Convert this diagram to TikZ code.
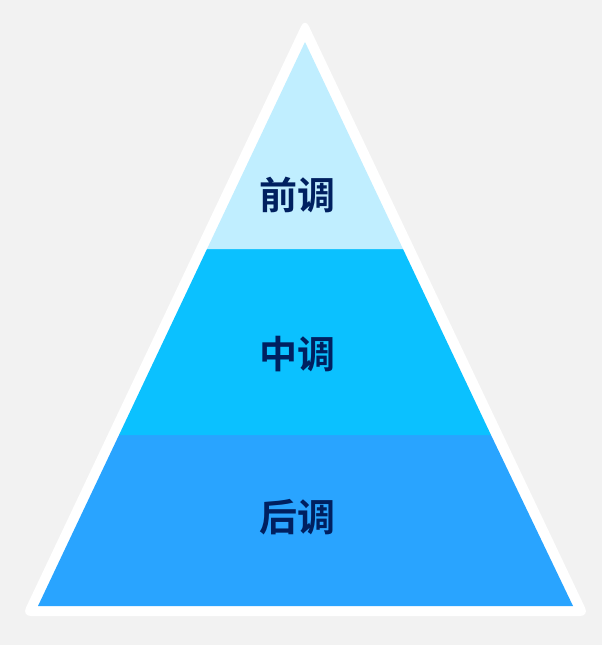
\documentclass[tikz,border=0pt]{standalone}
\usepackage{fontspec}
\newfontfamily\cjk{Noto Sans CJK SC}[BoldFont={Noto Sans CJK SC Bold}]
\definecolor{bg}{HTML}{F2F2F2}
\definecolor{topc}{HTML}{C0EEFF}
\definecolor{midc}{HTML}{0BC1FF}
\definecolor{botc}{HTML}{29A4FF}
\definecolor{txt}{HTML}{002060}
\tikzset{lbl/.style={font=\cjk\bfseries\fontsize{38}{42}\selectfont, text=txt, inner sep=0pt}}
\begin{document}
\begin{tikzpicture}[x=1pt,y=-1pt]
\fill[bg] (0,0) rectangle (602,645);
\useasboundingbox (0,0) rectangle (602,645);
\coordinate (A) at (305,18);
\coordinate (L) at (22,616);
\coordinate (R) at (589,616);
\fill[white, rounded corners=9] (A) -- (L) -- (R) -- cycle;
% inner bands
\fill[botc] (119,435) -- (38,606) -- (573,606) -- (491,435) -- cycle;
\fill[midc] (207,249) -- (119,435) -- (491,435) -- (403,249) -- cycle;
\fill[topc] (305,42) -- (207,249) -- (403,249) -- cycle;
\node[lbl] (t1) at (297,195) {前调};
\node[lbl] (t2) at (297,354) {中调};
\node[lbl] (t3) at (297,517) {后调};
\end{tikzpicture}
\end{document}
